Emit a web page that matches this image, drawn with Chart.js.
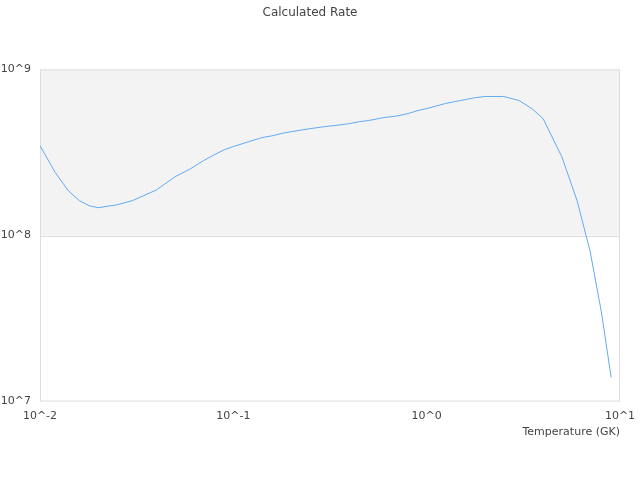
<!DOCTYPE html>
<html>
<head>
<meta charset="utf-8">
<script src="https://cdn.jsdelivr.net/npm/chart.js@4/dist/chart.umd.min.js"></script>
<style>
  html, body { margin: 0; padding: 0; background: #fff; }
  #wrap { width: 640px; height: 480px; }
</style>
</head>
<body>
<div id="wrap"><canvas id="rateChart"></canvas></div>
<script>
// temperature in GK
const temperatures = [0.01, 0.012, 0.014, 0.016, 0.018, 0.02, 0.025, 0.03, 0.04, 0.05,
  0.06, 0.07, 0.08, 0.09, 0.1, 0.12, 0.14, 0.16, 0.18, 0.2,
  0.25, 0.3, 0.35, 0.4, 0.45, 0.5, 0.6, 0.7, 0.8, 0.9,
  1, 1.25, 1.5, 1.75, 2, 2.5, 3, 3.5, 4, 5, 6, 7, 8, 9];
const rates = [3.47e8, 2.39e8, 1.86e8, 1.62e8, 1.51e8, 1.47e8, 1.53e8, 1.62e8, 1.88e8, 2.26e8,
  2.52e8, 2.82e8, 3.07e8, 3.29e8, 3.43e8, 3.67e8, 3.88e8, 3.99e8, 4.13e8, 4.22e8,
  4.40e8, 4.53e8, 4.62e8, 4.72e8, 4.85e8, 4.92e8, 5.13e8, 5.24e8, 5.42e8, 5.65e8,
  5.81e8, 6.23e8, 6.50e8, 6.73e8, 6.87e8, 6.87e8, 6.50e8, 5.81e8, 5.06e8, 2.98e8,
  1.62e8, 8.06e7, 3.50e7, 1.40e7];
const xTicks = [0.01, 0.1, 1, 10];
const yTicks = [1e7, 1e8, 1e9];
const band = [1e8, 1e9];

const fontFamily = "'DejaVu Sans', sans-serif";
const textColor = '#444';
const gridColor = '#dddddd';

function powLabel(v) {
  return '10^' + Math.round(Math.log10(v));
}

// shaded band between 10^8 and 10^9, plus the frame and the 10^8 line
const bandPlugin = {
  id: 'band',
  beforeDatasetsDraw(chart) {
    const { ctx, chartArea, scales } = chart;
    const top = scales.y.getPixelForValue(band[1]);
    const bottom = scales.y.getPixelForValue(band[0]);
    ctx.save();
    ctx.fillStyle = '#f3f3f3';
    ctx.fillRect(chartArea.left, top, chartArea.right - chartArea.left, bottom - top);
    ctx.strokeStyle = gridColor;
    ctx.lineWidth = 1;
    ctx.strokeRect(chartArea.left + 0.5, chartArea.top + 0.5,
      chartArea.right - chartArea.left - 1, chartArea.bottom - chartArea.top - 1);
    ctx.beginPath();
    ctx.moveTo(chartArea.left, Math.round(bottom) + 0.5);
    ctx.lineTo(chartArea.right, Math.round(bottom) + 0.5);
    ctx.stroke();
    ctx.restore();
  }
};

new Chart(document.getElementById('rateChart'), {
  type: 'line',
  data: {
    datasets: [{
      data: temperatures.map((t, i) => ({ x: t, y: rates[i] })),
      borderColor: '#62aaf3',
      borderWidth: 1,
      pointRadius: 0,
      tension: 0,
      fill: false
    }]
  },
  options: {
    responsive: true,
    maintainAspectRatio: false,
    animation: false,
    layout: { padding: { top: 4, right: 20, bottom: 41, left: 0 } },
    plugins: {
      legend: { display: false },
      tooltip: { enabled: false },
      title: {
        display: true,
        text: 'Calculated Rate',
        color: textColor,
        font: { family: fontFamily, size: 12, weight: 'normal' },
        padding: { top: 2, bottom: 49 }
      },
    },
    scales: {
      x: {
        type: 'logarithmic',
        min: 0.01,
        max: 10,
        afterBuildTicks: s => { s.ticks = xTicks.map(v => ({ value: v })); },
        afterFit: s => { s.paddingLeft = 0; s.paddingRight = 0; },
        ticks: {
          callback: v => powLabel(v),
          color: textColor,
          font: { family: fontFamily, size: 11 },
          maxRotation: 0,
          padding: 8
        },
        grid: { display: false, drawTicks: false },
        border: { display: false },
        title: {
          display: true,
          text: 'Temperature (GK)',
          align: 'end',
          color: textColor,
          font: { family: fontFamily, size: 11 },
          padding: { top: -5, bottom: 0 }
        }
      },
      y: {
        type: 'logarithmic',
        min: 1e7,
        max: 1e9,
        afterBuildTicks: s => { s.ticks = yTicks.map(v => ({ value: v })); },
        afterFit: s => { s.width = 40; },
        ticks: {
          callback: v => powLabel(v),
          color: textColor,
          font: { family: fontFamily, size: 11 },
          padding: 9
        },
        grid: { display: false, drawTicks: false },
        border: { display: false }
      }
    }
  },
  plugins: [bandPlugin]
});
</script>
</body>
</html>
